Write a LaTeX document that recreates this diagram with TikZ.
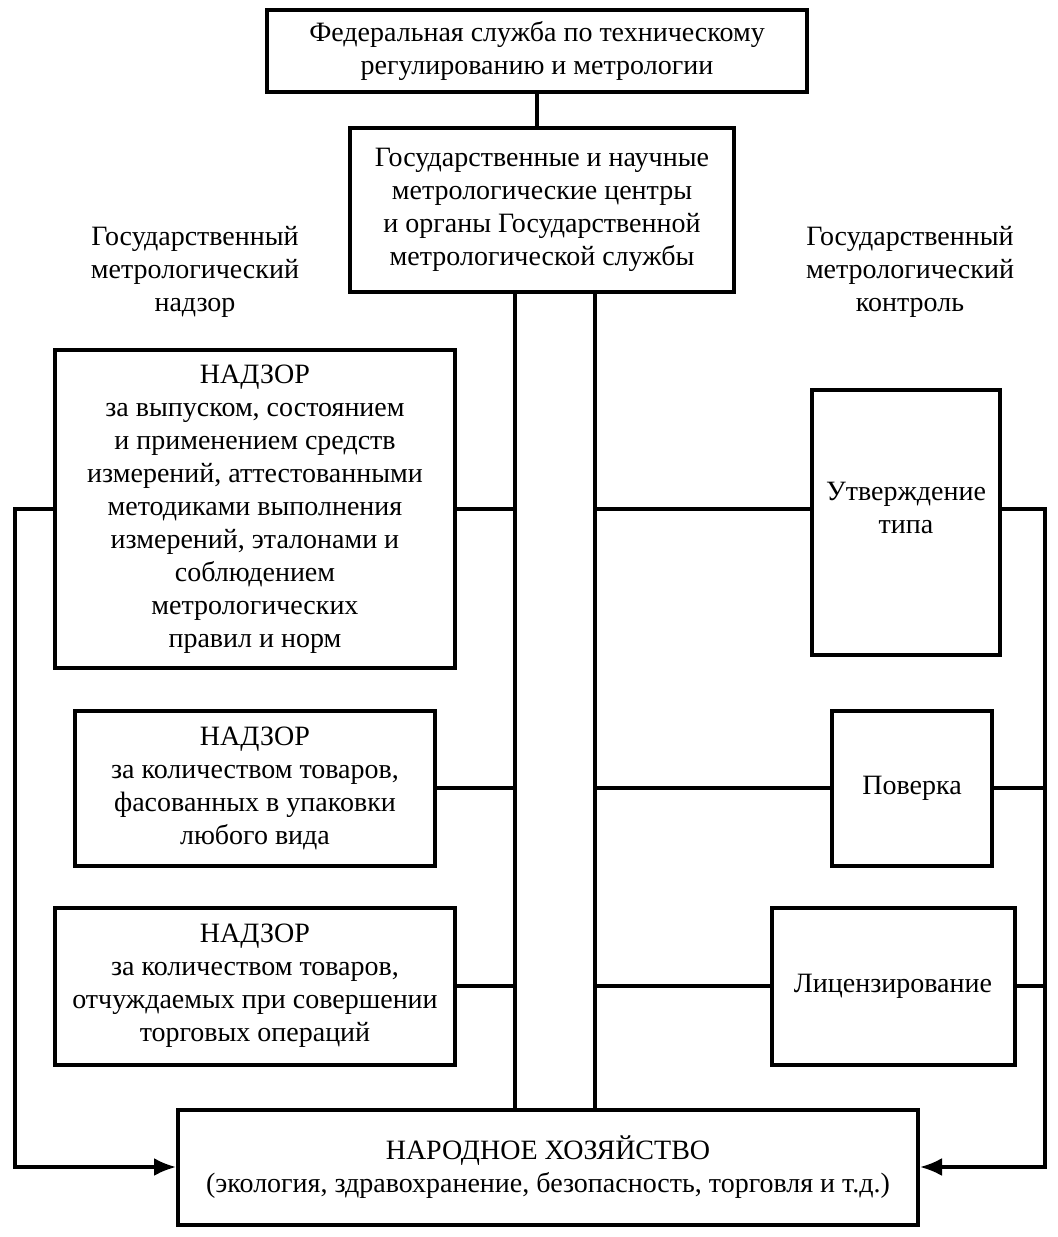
\documentclass[tikz,border=0pt]{standalone}
\usepackage{fontspec}
\setmainfont{Liberation Serif}
\usetikzlibrary{arrows.meta,positioning}

\begin{document}
\begin{tikzpicture}[x=0.5pt,y=-0.5pt,line width=1.6pt,>={Latex[length=11pt,width=9pt]}]
\tikzstyle{block}=[draw,line width=2pt,align=center,inner sep=2pt,font=\fontsize{14}{16.5}\selectfont]
  \tikzstyle{caption}=[align=center,inner sep=0pt,font=\fontsize{14}{16.5}\selectfont]
\useasboundingbox (0,0) rectangle (1057,1237);
%
%
\node[block,minimum width=270pt,minimum height=41pt] (fed) at (537,51) {Федеральная служба по техническому\\регулированию и метрологии};
  \node[block,minimum width=192pt,minimum height=82pt] (centr) at (542,210) {Государственные и научные\\метрологические центры\\и органы Государственной\\метрологической службы};
  \node[caption] (nadzor) at (195,272) {Государственный\\метрологический\\надзор};
  \node[caption] (kontrol) at (910,272) {Государственный\\метрологический\\контроль};
  \node[block,minimum width=200pt,minimum height=159pt] (nad1) at (255,509) {НАДЗОР\\за выпуском, состоянием\\и применением средств\\измерений, аттестованными\\методиками выполнения\\измерений, эталонами и\\соблюдением\\метрологических\\правил и норм};
  \node[block,minimum width=180pt,minimum height=77.5pt] (nad2) at (255,788) {НАДЗОР\\за количеством товаров,\\фасованных в упаковки\\любого вида};
  \node[block,minimum width=200pt,minimum height=78.5pt] (nad3) at (255,986) {НАДЗОР\\за количеством товаров,\\отчуждаемых при совершении\\торговых операций};
  \node[block,minimum width=94pt,minimum height=132.5pt,text depth=14pt] (tip) at (906,522) {Утверждение\\типа};
  \node[block,minimum width=80pt,minimum height=77.5pt] (pov) at (912,788) {Поверка};
  \node[block,minimum width=121.5pt,minimum height=78.5pt] (lic) at (893,986) {Лицензирование};
  \node[block,minimum width=370pt,minimum height=57.5pt] (hoz) at (548,1167) {НАРОДНОЕ ХОЗЯЙСТВО\\(экология, здравохранение, безопасность, торговля и т.д.)};

  \coordinate (trunkL) at (515,0);
  \coordinate (trunkR) at (595,0);
  \coordinate (outL) at (15,0);
  \coordinate (outR) at (1045,0);

  \draw (fed.south) -- (fed.south |- centr.north);
  \draw (centr.south -| trunkL) -- (hoz.north -| trunkL);
  \draw (centr.south -| trunkR) -- (hoz.north -| trunkR);
  \draw (nad1.east) -- (nad1.east -| trunkL);
  \draw (nad2.east) -- (nad2.east -| trunkL);
  \draw (nad3.east) -- (nad3.east -| trunkL);
  \draw (tip.west |- nad1.east) -- (nad1.east -| trunkR);
  \draw (pov.west) -- (pov.west -| trunkR);
  \draw (lic.west) -- (lic.west -| trunkR);
  \draw[->] (nad1.west) -- (nad1.west -| outL) |- (hoz.west);
  \draw[->] (tip.east |- nad1.west) -- (nad1.west -| outR) |- (hoz.east);
  \draw (pov.east) -- (pov.east -| outR);
  \draw (lic.east) -- (lic.east -| outR);
\end{tikzpicture}
\end{document}
